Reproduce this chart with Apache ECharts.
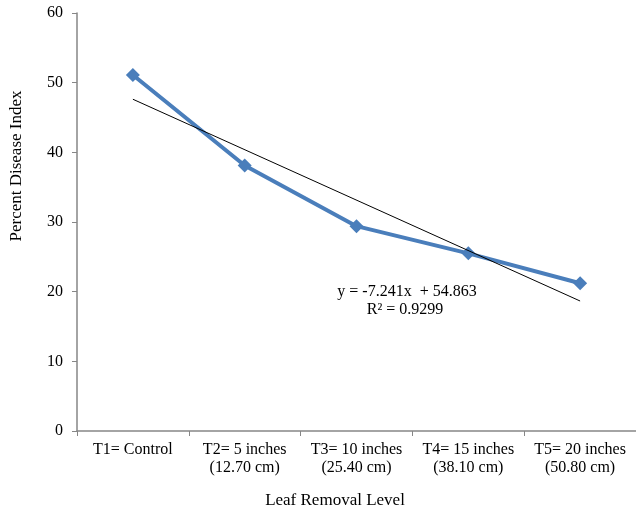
<!DOCTYPE html>
<html><head><meta charset="utf-8">
<script src="https://cdn.jsdelivr.net/npm/echarts@6/dist/echarts.min.js"></script>
<style>html,body{margin:0;padding:0;background:#fff}#c{width:636px;height:512px}</style>
</head><body><div id="c"></div>
<script>
const categories = ['T1= Control', 'T2= 5 inches\n(12.70 cm)', 'T3= 10 inches\n(25.40 cm)', 'T4= 15 inches\n(38.10 cm)', 'T5= 20 inches\n(50.80 cm)'];
const diseaseIndex = [51.1, 38.1, 29.4, 25.5, 21.2];
const trendValues = [47.62, null, null, null, 18.66];
const yTicks = {min: 0, max: 60, interval: 10};
const xTitle = 'Leaf Removal Level';
const yTitle = 'Percent Disease Index';
const equationText = 'y = -7.241x  + 54.863';
const r2Text = 'R² = 0.9299';

const font = '"Liberation Serif", "Times New Roman", serif';
const axisColor = '#868686';
const chart = echarts.init(document.getElementById('c'));
chart.setOption({
  animation: false,
  textStyle: {fontFamily: font},
  grid: {left: 77, right: 0, top: 13, bottom: 81, containLabel: false},
  xAxis: {
    type: 'category', data: categories, boundaryGap: true,
    axisLine: {lineStyle: {color: axisColor, width: 1.5}},
    axisTick: {show: true, alignWithLabel: false, length: 5, lineStyle: {color: axisColor}},
    axisLabel: {fontFamily: font, fontSize: 16, color: '#000', margin: 10, lineHeight: 18, interval: 0}
  },
  yAxis: {
    type: 'value', min: yTicks.min, max: yTicks.max, interval: yTicks.interval,
    splitLine: {show: false},
    axisLine: {show: true, lineStyle: {color: axisColor, width: 1.5}},
    axisTick: {show: true, length: 5, inside: false, lineStyle: {color: axisColor}},
    axisLabel: {fontFamily: font, fontSize: 16, color: '#000', margin: 14}
  },
  series: [
    {
      type: 'line', data: trendValues, connectNulls: true, symbol: 'none',
      lineStyle: {color: '#000', width: 1}, z: 3, silent: true
    },
    {
      type: 'line', data: diseaseIndex, symbol: 'diamond', symbolSize: 14,
      itemStyle: {color: '#4a7ebb'}, lineStyle: {color: '#4a7ebb', width: 4}, z: 2
    }
  ],
  graphic: [
    {type: 'text', x: 335, y: 501, style: {text: xTitle, fontFamily: font, fontSize: 17, fill: '#000', align: 'center', verticalAlign: 'middle'}},
    {type: 'text', x: 17, y: 166, rotation: Math.PI / 2, style: {text: yTitle, fontFamily: font, fontSize: 17, fill: '#000', align: 'center', verticalAlign: 'middle'}},
    {type: 'text', x: 407, y: 292, style: {text: equationText, fontFamily: font, fontSize: 16, fill: '#000', align: 'center', verticalAlign: 'middle'}},
    {type: 'text', x: 405, y: 310, style: {text: r2Text, fontFamily: font, fontSize: 16, fill: '#000', align: 'center', verticalAlign: 'middle'}}
  ]
});
</script></body></html>
